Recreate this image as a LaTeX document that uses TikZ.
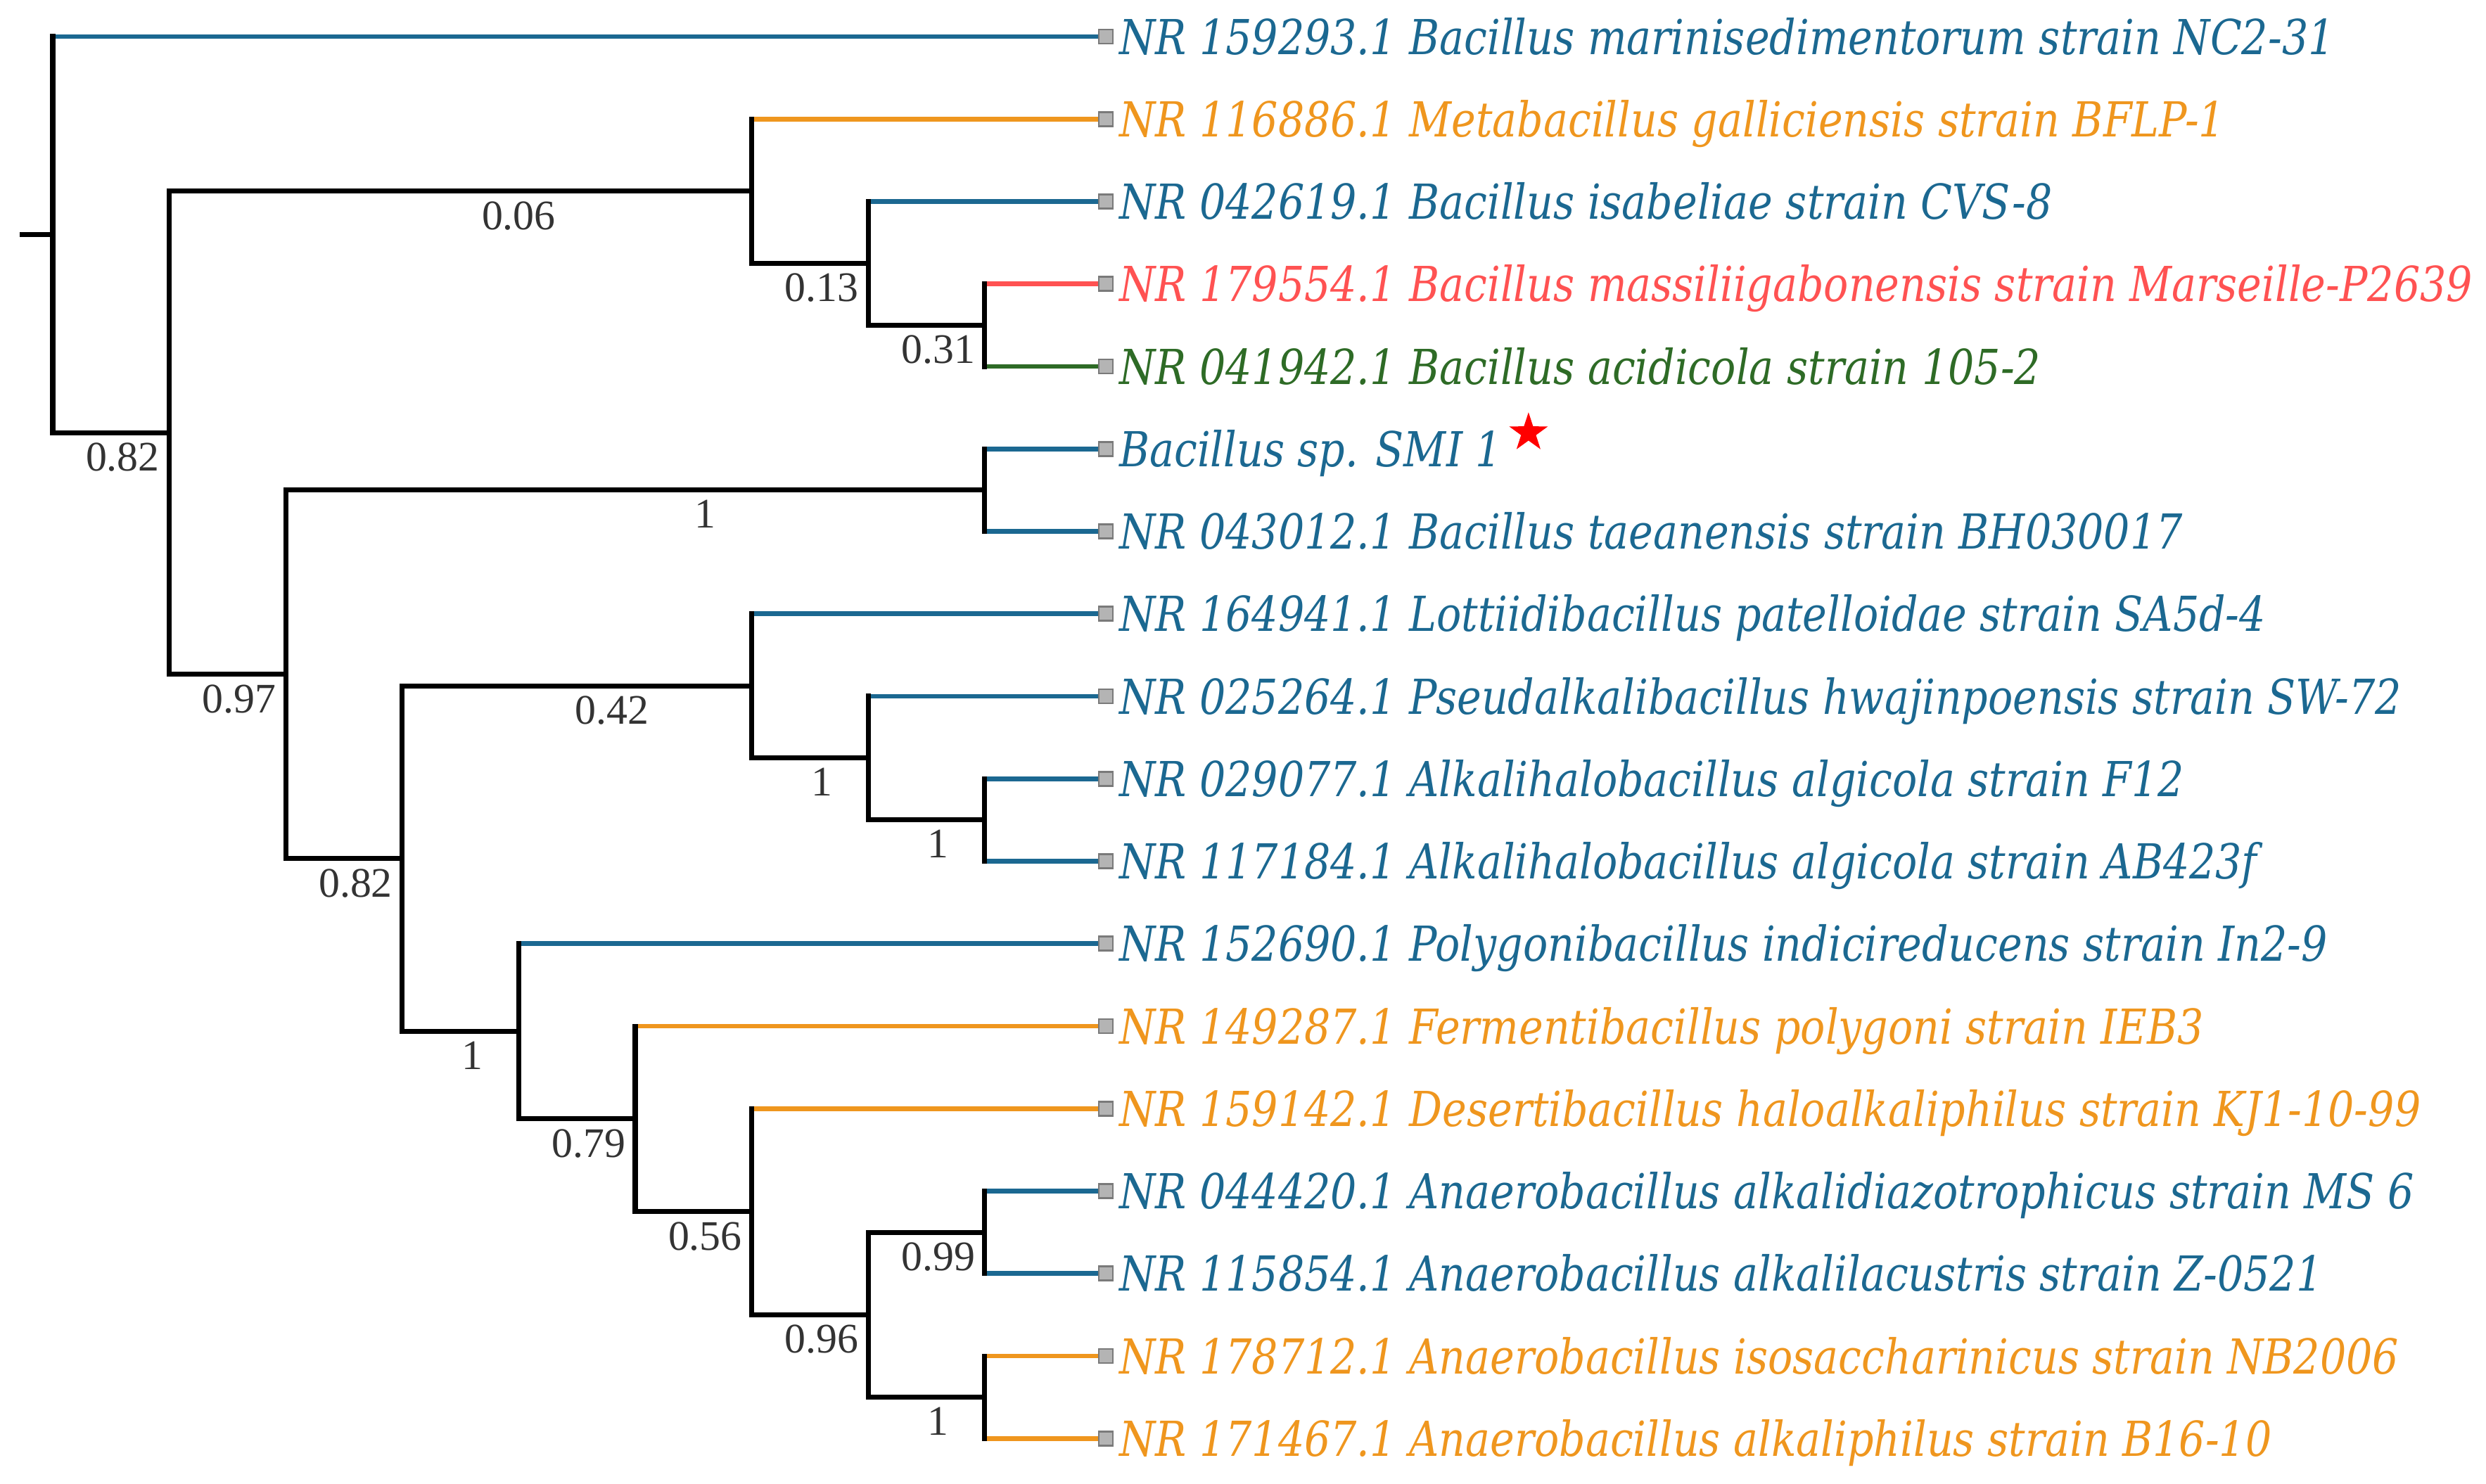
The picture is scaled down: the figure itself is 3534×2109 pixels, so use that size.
\documentclass[tikz,border=0pt]{standalone}
\usepackage{fontspec}
\usepackage{tikz}
\usetikzlibrary{positioning,shapes.geometric}
\definecolor{leaf_blue}{HTML}{1B6891}
\definecolor{leaf_orange}{HTML}{EF961E}
\definecolor{leaf_red}{HTML}{FF5252}
\definecolor{leaf_green}{HTML}{2E6B26}
\definecolor{boot_grey}{HTML}{333333}
\definecolor{tip_line}{HTML}{7A7A7A}
\definecolor{tip_fill}{HTML}{B4B4B4}
\newfontfamily\leaffont[FakeStretch=0.855]{DejaVu Serif}
\newfontfamily\bootfont{Liberation Serif}
\tikzset{
  branch/.style={line width=2pt, line cap=rect, black},
  twig/.style={line width=1.9pt},
  tip/.style={draw=tip_line, fill=tip_fill, line width=0.8pt, minimum size=0.2cm, inner sep=0pt},
  leaf/.style={inner sep=0pt, text height=0.5cm, text depth=0pt, font=\leaffont\itshape\fontsize{19.5}{20}\selectfont},
  boot/.style={below=0.11cm, inner sep=0pt, text=boot_grey, font=\bootfont\fontsize{17}{18}\selectfont}
}

\begin{document}
\begin{tikzpicture}[x=0.01cm, y=-0.01cm]
        \useasboundingbox (0,0) rectangle (3534,2109);
        % Noeuds internes
        \coordinate (stub) at (32,333.68);
        \coordinate (R) at (75,333.68);
        \coordinate (A) at (240.6,615.35);
        \coordinate (B) at (1068.6,271.84);
        \coordinate (C) at (1234.2,374.44);
        \coordinate (D) at (1399.8,462.38);
        \coordinate (E) at (406.2,958.86);
        \coordinate (F) at (1399.8,696.88);
        \coordinate (G) at (571.8,1220.84);
        \coordinate (H) at (1068.6,975.34);
        \coordinate (I) at (1234.2,1077.94);
        \coordinate (J) at (1399.8,1165.88);
        \coordinate (K) at (737.4,1466.33);
        \coordinate (L) at (903,1590.91);
        \coordinate (M) at (1068.6,1722.81);
        \coordinate (N) at (1234.2,1869.38);
        \coordinate (O) at (1399.8,1752.13);
        \coordinate (P) at (1399.8,1986.63);
        % Marqueurs des feuilles
        \node[tip] (t1) at (1572,52) {};
        \node[tip] (t2) at (1572,169.25) {};
        \node[tip] (t3) at (1572,286.5) {};
        \node[tip] (t4) at (1572,403.75) {};
        \node[tip] (t5) at (1572,521) {};
        \node[tip] (t6) at (1572,638.25) {};
        \node[tip] (t7) at (1572,755.5) {};
        \node[tip] (t8) at (1572,872.75) {};
        \node[tip] (t9) at (1572,990) {};
        \node[tip] (t10) at (1572,1107.25) {};
        \node[tip] (t11) at (1572,1224.5) {};
        \node[tip] (t12) at (1572,1341.75) {};
        \node[tip] (t13) at (1572,1459) {};
        \node[tip] (t14) at (1572,1576.25) {};
        \node[tip] (t15) at (1572,1693.5) {};
        \node[tip] (t16) at (1572,1810.75) {};
        \node[tip] (t17) at (1572,1928) {};
        \node[tip] (t18) at (1572,2045.25) {};
        % Noms des souches
        \node[leaf, text=leaf_blue, right=0.07cm of t1] (l1) {NR 159293.1 Bacillus marinisedimentorum strain NC2-31};
        \node[leaf, text=leaf_orange, right=0.07cm of t2] (l2) {NR 116886.1 Metabacillus galliciensis strain BFLP-1};
        \node[leaf, text=leaf_blue, right=0.07cm of t3] (l3) {NR 042619.1 Bacillus isabeliae strain CVS-8};
        \node[leaf, text=leaf_red, right=0.07cm of t4] (l4) {NR 179554.1 Bacillus massiliigabonensis strain Marseille-P2639};
        \node[leaf, text=leaf_green, right=0.07cm of t5] (l5) {NR 041942.1 Bacillus acidicola strain 105-2};
        \node[leaf, text=leaf_blue, right=0.07cm of t6] (l6) {Bacillus sp. SMI 1};
        \node[leaf, text=leaf_blue, right=0.07cm of t7] (l7) {NR 043012.1 Bacillus taeanensis strain BH030017};
        \node[leaf, text=leaf_blue, right=0.07cm of t8] (l8) {NR 164941.1 Lottiidibacillus patelloidae strain SA5d-4};
        \node[leaf, text=leaf_blue, right=0.07cm of t9] (l9) {NR 025264.1 Pseudalkalibacillus hwajinpoensis strain SW-72};
        \node[leaf, text=leaf_blue, right=0.07cm of t10] (l10) {NR 029077.1 Alkalihalobacillus algicola strain F12};
        \node[leaf, text=leaf_blue, right=0.07cm of t11] (l11) {NR 117184.1 Alkalihalobacillus algicola strain AB423f};
        \node[leaf, text=leaf_blue, right=0.07cm of t12] (l12) {NR 152690.1 Polygonibacillus indicireducens strain In2-9};
        \node[leaf, text=leaf_orange, right=0.07cm of t13] (l13) {NR 149287.1 Fermentibacillus polygoni strain IEB3};
        \node[leaf, text=leaf_orange, right=0.07cm of t14] (l14) {NR 159142.1 Desertibacillus haloalkaliphilus strain KJ1-10-99};
        \node[leaf, text=leaf_blue, right=0.07cm of t15] (l15) {NR 044420.1 Anaerobacillus alkalidiazotrophicus strain MS 6};
        \node[leaf, text=leaf_blue, right=0.07cm of t16] (l16) {NR 115854.1 Anaerobacillus alkalilacustris strain Z-0521};
        \node[leaf, text=leaf_orange, right=0.07cm of t17] (l17) {NR 178712.1 Anaerobacillus isosaccharinicus strain NB2006};
        \node[leaf, text=leaf_orange, right=0.07cm of t18] (l18) {NR 171467.1 Anaerobacillus alkaliphilus strain B16-10};
        % Etoile
        \node[star, star points=5, star point ratio=2.6, fill=red, inner sep=0pt, minimum size=0.58cm] (smi_star) at ([shift={(37,-23)}]l6.east) {};
        % Branches terminales
        \draw[twig, leaf_blue] (R |- t1) -- (t1);
        \draw[twig, leaf_orange] (B |- t2) -- (t2);
        \draw[twig, leaf_blue] (C |- t3) -- (t3);
        \draw[twig, leaf_red] (D |- t4) -- (t4);
        \draw[twig, leaf_green] (D |- t5) -- (t5);
        \draw[twig, leaf_blue] (F |- t6) -- (t6);
        \draw[twig, leaf_blue] (F |- t7) -- (t7);
        \draw[twig, leaf_blue] (H |- t8) -- (t8);
        \draw[twig, leaf_blue] (I |- t9) -- (t9);
        \draw[twig, leaf_blue] (J |- t10) -- (t10);
        \draw[twig, leaf_blue] (J |- t11) -- (t11);
        \draw[twig, leaf_blue] (K |- t12) -- (t12);
        \draw[twig, leaf_orange] (L |- t13) -- (t13);
        \draw[twig, leaf_orange] (M |- t14) -- (t14);
        \draw[twig, leaf_blue] (O |- t15) -- (t15);
        \draw[twig, leaf_blue] (O |- t16) -- (t16);
        \draw[twig, leaf_orange] (P |- t17) -- (t17);
        \draw[twig, leaf_orange] (P |- t18) -- (t18);
        % Branches internes et supports
        \draw[branch] (stub) -- (R);
        \draw[branch] (R |- t1) -- (R |- A);
        \draw[branch] (R |- A) -- (A) node[boot, pos=.6] (s_A) {0.82};
        \draw[branch] (A |- B) -- (A |- E);
        \draw[branch] (A |- B) -- (B) node[boot, pos=.6] (s_B) {0.06};
        \draw[branch] (B |- t2) -- (B |- C);
        \draw[branch] (B |- C) -- (C) node[boot, pos=.6] (s_C) {0.13};
        \draw[branch] (C |- t3) -- (C |- D);
        \draw[branch] (C |- D) -- (D) node[boot, pos=.6] (s_D) {0.31};
        \draw[branch] (D |- t4) -- (D |- t5);
        \draw[branch] (A |- E) -- (E) node[boot, pos=.6] (s_E) {0.97};
        \draw[branch] (E |- F) -- (E |- G);
        \draw[branch] (E |- F) -- (F) node[boot, pos=.6] (s_F) {1};
        \draw[branch] (F |- t6) -- (F |- t7);
        \draw[branch] (E |- G) -- (G) node[boot, pos=.6] (s_G) {0.82};
        \draw[branch] (G |- H) -- (G |- K);
        \draw[branch] (G |- H) -- (H) node[boot, pos=.6] (s_H) {0.42};
        \draw[branch] (H |- t8) -- (H |- I);
        \draw[branch] (H |- I) -- (I) node[boot, pos=.6] (s_I) {1};
        \draw[branch] (I |- t9) -- (I |- J);
        \draw[branch] (I |- J) -- (J) node[boot, pos=.6] (s_J) {1};
        \draw[branch] (J |- t10) -- (J |- t11);
        \draw[branch] (G |- K) -- (K) node[boot, pos=.6] (s_K) {1};
        \draw[branch] (K |- t12) -- (K |- L);
        \draw[branch] (K |- L) -- (L) node[boot, pos=.6] (s_L) {0.79};
        \draw[branch] (L |- t13) -- (L |- M);
        \draw[branch] (L |- M) -- (M) node[boot, pos=.6] (s_M) {0.56};
        \draw[branch] (M |- t14) -- (M |- N);
        \draw[branch] (M |- N) -- (N) node[boot, pos=.6] (s_N) {0.96};
        \draw[branch] (N |- O) -- (N |- P);
        \draw[branch] (N |- O) -- (O) node[boot, pos=.6] (s_O) {0.99};
        \draw[branch] (O |- t15) -- (O |- t16);
        \draw[branch] (N |- P) -- (P) node[boot, pos=.6] (s_P) {1};
        \draw[branch] (P |- t17) -- (P |- t18);
    \end{tikzpicture}
\end{document}
